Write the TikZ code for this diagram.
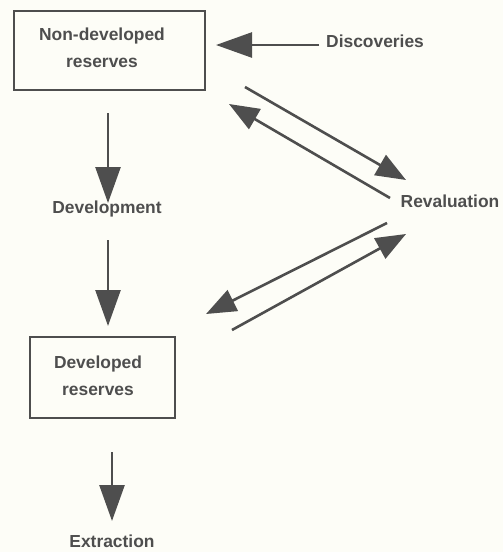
\documentclass[tikz,border=0pt]{standalone}
\usepackage{fontspec}
\setmainfont{Liberation Sans}
\usetikzlibrary{arrows.meta}
\definecolor{ink}{HTML}{4E4E4E}
\definecolor{paper}{HTML}{FDFDF7}
\begin{document}
\begin{tikzpicture}[x=1pt,y=-1pt,
  label/.style={text=ink,font=\fontsize{17.4}{27}\selectfont\bfseries,align=center,inner sep=0pt},
  stockbox/.style={draw=ink,line width=1.8pt,minimum width=#1,inner sep=0pt},
  flow/.style={draw=ink,line width=2.6pt,-{Triangle[length=36pt,width=25pt]}},
  swap/.style={draw=ink,line width=2.6pt,-{Triangle[length=30pt,width=23pt]}}]
\useasboundingbox[fill=paper] (0,0) rectangle (503,552);

% stocks
\node[stockbox=191pt,minimum height=79pt] (nondev) at (109.5,50.5) {};
\node[label] at (102,48) {Non-developed\\reserves};
\node[stockbox=145pt,minimum height=81pt] (devres) at (102.5,377.5) {};
\node[label] at (98,376) {Developed\\reserves};

% flows and labels
\node[label,anchor=west] (disc) at (326,41) {Discoveries};
\node[label] (dev) at (107,209) {Development};
\node[label] (extr) at (112,541) {Extraction};
\node[label] (reval) at (450,201) {Revaluation};

% arrow end points
\coordinate (d0) at (319,45);   \coordinate (d1) at (216,45);
\coordinate (v1a) at (108,113); \coordinate (v1b) at (108,203);
\coordinate (v2a) at (108,240); \coordinate (v2b) at (108,326);
\coordinate (v3a) at (112,452); \coordinate (v3b) at (112,521);
\coordinate (ua0) at (245,87);  \coordinate (ua1) at (406,180);
\coordinate (ub0) at (390,198); \coordinate (ub1) at (229,104);
\coordinate (la0) at (387,223); \coordinate (la1) at (206,314);
\coordinate (lb0) at (232,330); \coordinate (lb1) at (406,234);

\draw[flow] (d0) -- (d1);
\draw[flow] (v1a) -- (v1b);
\draw[flow] (v2a) -- (v2b);
\draw[flow] (v3a) -- (v3b);
\draw[swap] (ua0) -- (ua1);
\draw[swap] (ub0) -- (ub1);
\draw[swap] (la0) -- (la1);
\draw[swap] (lb0) -- (lb1);
\end{tikzpicture}
\end{document}
